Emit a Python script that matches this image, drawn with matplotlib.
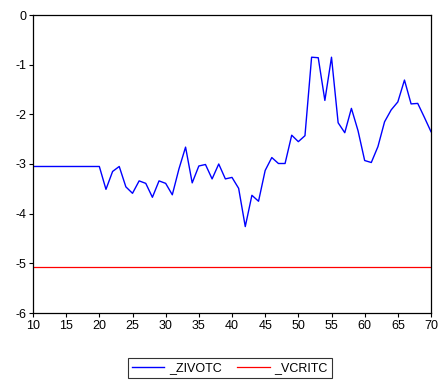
import numpy as np
import matplotlib.pyplot as plt

plt.rcParams['font.family'] = ['Liberation Sans', 'DejaVu Sans']
plt.rcParams['axes.unicode_minus'] = False

obs = np.arange(10, 71)
zivotc = [-3.05] * 11 + [
    -3.51, -3.15, -3.05, -3.46, -3.59, -3.34, -3.39, -3.67, -3.34, -3.39,   # 21-30
    -3.62, -3.10, -2.66, -3.38, -3.04, -3.01, -3.30, -3.00, -3.30, -3.27,   # 31-40
    -3.49, -4.26, -3.63, -3.75, -3.13, -2.87, -2.99, -2.99, -2.42, -2.55,   # 41-50
    -2.43, -0.85, -0.86, -1.72, -0.85, -2.17, -2.37, -1.88, -2.33, -2.93,   # 51-60
    -2.97, -2.65, -2.15, -1.91, -1.75, -1.31, -1.79, -1.78, -2.06, -2.35,   # 61-70
]
vcritc = [-5.07] * len(obs)
names = ['_ZIVOTC', '_VCRITC']

fig = plt.figure(figsize=(4.38, 3.81), dpi=100)
ax = fig.add_axes([33 / 438, 1 - 313 / 381, 398 / 438, 298 / 381])

l1, = ax.plot(obs, zivotc, color='#0000ff', lw=1.0)
l2, = ax.plot(obs, vcritc, color='#ff0000', lw=0.9)

ax.set_xlim(10, 70)
ax.set_ylim(-6, 0)
ax.set_xticks(np.arange(10, 71, 5))
ax.set_yticks(np.arange(-6, 1, 1))
ax.tick_params(labelsize=9, length=3, width=0.8, direction='out', pad=2)
for s in ax.spines.values():
    s.set_linewidth(0.9)

# names start with "_", so hand them to the legend explicitly
leg = fig.legend([l1, l2], names, loc='center',
                 bbox_to_anchor=(230 / 438, 1 - 368 / 381),
                 ncol=2, fontsize=9, frameon=True, fancybox=False,
                 edgecolor='black', handlelength=2.6, columnspacing=1.2,
                 handletextpad=0.4, borderpad=0.3)
leg.get_frame().set_linewidth(0.8)

fig.savefig('out.png', dpi=100)
